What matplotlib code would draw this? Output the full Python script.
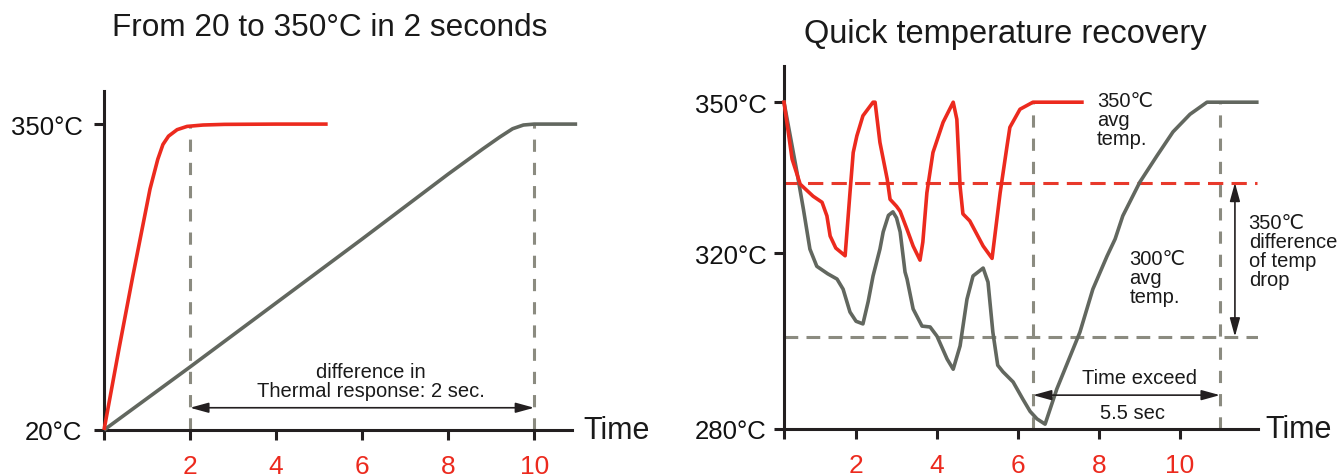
import numpy as np
import matplotlib
matplotlib.use('Agg')
import matplotlib.pyplot as plt

plt.rcParams['font.family'] = ['Liberation Sans', 'DejaVu Sans']

# ---------------- data: left panel ----------------
t_fast = [0, 0.35, 0.67, 1.07, 1.25, 1.37, 1.5, 1.7, 1.93, 2.3, 2.8, 4.0, 5.2]
temp_fast = [20, 108, 186, 280, 312, 328, 337, 344, 347.5, 349, 349.7, 350, 350]
t_slow = [0, 2, 4, 6, 8, 8.8, 9.2, 9.5, 9.75, 10, 11]
temp_slow = [20, 88, 157, 226, 296, 323, 336, 345, 349, 350, 350]
left_xticks = [0, 2, 4, 6, 8, 10]
left_xticklabels = ['', '2', '4', '6', '8', '10']
left_yticks = [20, 350]
left_yticklabels = ['20°C', '350°C']
response_marks = [2, 10]

# ---------------- data: right panel ----------------
t_new = [0.22, 0.42, 0.62, 0.94, 1.16, 1.28, 1.36, 1.5, 1.73, 1.85, 1.93, 2.02, 2.17,
         2.42, 2.47, 2.59, 2.77, 2.84, 3.0, 3.09, 3.26, 3.41, 3.58, 3.65, 3.75, 3.9,
         4.15, 4.4, 4.49, 4.57, 4.64, 4.81, 5.14, 5.36, 5.56, 5.73, 5.8, 6.05, 6.37, 7.58]
temp_new = [350, 338.7, 333.7, 331.3, 330.1, 327.4, 323.4, 321, 319.4, 332, 340, 343.3, 347.3,
            350, 350, 342, 334.7, 330.7, 329.3, 328.3, 324.7, 321.4, 318.4, 322.2, 332, 340,
            346, 350, 346.6, 333.3, 327.8, 326.4, 321.4, 318.8, 332, 341.3, 345, 348.6, 350, 350]
t_old = [0.22, 0.54, 0.7, 0.86, 1.03, 1.3, 1.53, 1.68, 1.85, 2.0, 2.17, 2.3, 2.42, 2.59,
         2.67, 2.8, 2.91, 3.0, 3.09, 3.21, 3.26, 3.41, 3.63, 3.83, 4.0, 4.25, 4.4, 4.57,
         4.74, 4.89, 5.14, 5.26, 5.38, 5.5, 5.63, 5.88, 6.12, 6.3, 6.47, 6.67, 6.96, 7.53,
         7.85, 8.2, 8.4, 8.59, 9.01, 9.43, 9.83, 10.25, 10.67, 11.9]
temp_old = [350, 336.1, 328.7, 320.8, 317, 315.3, 314.1, 311.8, 306.6, 304.5, 303.9, 309,
            314.8, 320.8, 324.2, 327.5, 328.2, 327, 324.2, 315.7, 314.1, 307.3, 303.4,
            303.2, 301.1, 295.9, 293.6, 298.9, 309.5, 314.8, 316.6, 313.4, 302, 294.5,
            293, 290.7, 286.8, 284, 282.3, 281.1, 289.1, 302, 311.8, 319.3, 322.8, 327.4,
            334.1, 339.3, 344.1, 347.6, 350, 350]
right_xticks = [0.22, 2, 4, 6, 8, 10]
right_xticklabels = ['', '2', '4', '6', '8', '10']
right_yticks = [280, 320, 350]
right_yticklabels = ['280°C', '320°C', '350°C']
avg_new = 334
avg_old = 301
exceed_start, exceed_end = 6.37, 10.99
exceed_level = 287.7
drop_arrow_x = 11.36

# ---------------- style ----------------
RED = '#ec2a1e'
GRAY = '#62675f'
DASH_GRAY = '#8b8b80'
AXC = '#231f20'
W, H = 1342, 477

fig = plt.figure(figsize=(W / 100, H / 100), dpi=100)


def style_axes(ax, pad_y):
    for s in ['top', 'right']:
        ax.spines[s].set_visible(False)
    for s in ['left', 'bottom']:
        ax.spines[s].set_linewidth(2.2)
        ax.spines[s].set_color(AXC)
    ax.tick_params(axis='both', direction='out', length=7, width=2.2, color=AXC)
    ax.tick_params(axis='x', labelcolor=RED, labelsize=19, pad=10)
    ax.tick_params(axis='y', labelcolor='#111111', labelsize=18.5, pad=pad_y)


arrow_style = dict(arrowstyle='<|-|>,head_length=0.8,head_width=0.22', color=AXC,
                   lw=1.2, shrinkA=0, shrinkB=0, mutation_scale=14)

# ---------------- left panel ----------------
axL = fig.add_axes([104 / W, 46 / H, (572 - 104) / W, (431 - 92) / H])
axL.set_xlim(0, 10.88)
axL.set_ylim(20, 385.7)
style_axes(axL, 8.5)
axL.set_xticks(left_xticks)
axL.set_xticklabels(left_xticklabels)
axL.set_yticks(left_yticks)
axL.set_yticklabels(left_yticklabels)

for m in response_marks:
    top = np.interp(m, t_slow, temp_slow) if m > 5 else np.interp(m, t_fast, temp_fast)
    axL.plot([m, m], [20, top], color=DASH_GRAY, lw=2.2, dashes=(4, 3.6), zorder=2)
axL.plot(t_slow, temp_slow, color=GRAY, lw=2.6, solid_capstyle='butt', zorder=3,
         clip_on=False)
axL.plot(t_fast, temp_fast, color=RED, lw=2.6, solid_capstyle='butt', zorder=4,
         clip_on=False)
axL.annotate('', xy=(response_marks[0], 44), xytext=(response_marks[1], 44),
             arrowprops=arrow_style)
axL.text(6.2, 52, 'difference in\nThermal response: 2 sec.', ha='center', va='bottom',
         fontsize=14.5, linespacing=1.0, color='#1a1a1a')
axL.text(11.15, 20, 'Time', ha='left', va='center', fontsize=22, color='#1a1a1a',
         clip_on=False)
fig.text(330 / W, 1 - 28 / H, 'From 20 to 350°C in 2 seconds', ha='center', va='center',
         fontsize=22.7, color='#1a1a1a')

# ---------------- right panel ----------------
scale_T = [200, 280, 320, 350, 450]
scale_pos = [-352, 0, 176, 327, 830]


def fwd(t):
    return np.interp(t, scale_T, scale_pos)


def inv(p):
    return np.interp(p, scale_pos, scale_T)


axR = fig.add_axes([784 / W, 47 / H, (1258 - 784) / W, (430 - 67) / H])
axR.set_yscale('function', functions=(fwd, inv))
axR.set_xlim(0.22, 11.93)
axR.set_ylim(280, 357.2)
style_axes(axR, 5.5)
axR.set_xticks(right_xticks)
axR.set_xticklabels(right_xticklabels)
axR.set_yticks(right_yticks)
axR.set_yticklabels(right_yticklabels)
axR.yaxis.set_minor_locator(matplotlib.ticker.NullLocator())

xmin = right_xticks[0]
axR.plot([xmin, 11.9], [avg_new, avg_new], color='#e8392b', lw=2.2, dashes=(5, 2.7),
         zorder=2)
axR.plot([xmin, 11.93], [avg_old, avg_old], color=DASH_GRAY, lw=2.2, dashes=(4.5, 2.7),
         zorder=2)
for m in (exceed_start, exceed_end):
    axR.plot([m, m], [280, 350], color=DASH_GRAY, lw=2.2, dashes=(4, 3.6), zorder=2)
axR.plot(t_old, temp_old, color=GRAY, lw=2.6, zorder=3, clip_on=False)
axR.plot(t_new, temp_new, color=RED, lw=2.6, zorder=4, clip_on=False)

axR.annotate('', xy=(exceed_start, exceed_level), xytext=(exceed_end, exceed_level),
             arrowprops=arrow_style)
axR.annotate('', xy=(drop_arrow_x, avg_new), xytext=(drop_arrow_x, avg_old),
             arrowprops=arrow_style)
txt_kw = dict(fontsize=14.5, linespacing=1.0, color='#1a1a1a')
axR.text(9.01, 289.5, 'Time exceed', ha='center', va='bottom', **txt_kw)
axR.text(8.84, 286, '5.5 sec', ha='center', va='top', **txt_kw)
axR.text(7.95, 352.2, '350℃\navg\ntemp.', ha='left', va='top', **txt_kw)
axR.text(8.75, 320.8, '300℃\navg\ntemp.', ha='left', va='top', **txt_kw)
axR.text(11.7, 328.0, '350℃\ndifference\nof temp\ndrop', ha='left', va='top',
         clip_on=False, **txt_kw)
axR.text(12.12, 280, 'Time', ha='left', va='center', fontsize=22, color='#1a1a1a',
         clip_on=False)
fig.text(1005 / W, 1 - 35 / H, 'Quick temperature recovery', ha='center', va='center',
         fontsize=23.5, color='#1a1a1a')

fig.savefig('out.png', dpi=100)
